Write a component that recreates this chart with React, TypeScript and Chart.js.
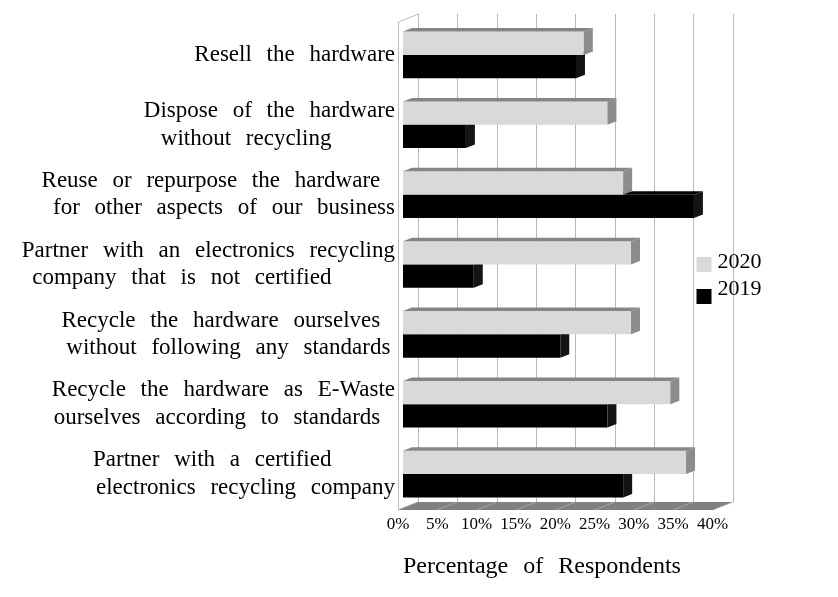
import React, { useEffect, useRef } from 'react';
import { Chart, registerables } from 'chart.js';

Chart.register(...registerables);

// ---------------- data ----------------
const categories: string[][] = [
  ['Resell the hardware'],
  ['Dispose of the hardware', 'without recycling'],
  ['Reuse or repurpose the hardware', 'for other aspects of our business'],
  ['Partner with an electronics recycling', 'company that is not certified'],
  ['Recycle the hardware ourselves', 'without following any standards'],
  ['Recycle the hardware as E-Waste', 'ourselves according to standards'],
  ['Partner with a certified', 'electronics recycling company'],
];
const values2020 = [23, 26, 28, 29, 29, 34, 36];
const values2019 = [22, 8, 37, 9, 20, 26, 28];
const seriesLabels = ['2020', '2019'];
const xTickValues = [0, 5, 10, 15, 20, 25, 30, 35, 40];
const axisTitle = 'Percentage of Respondents';

// ---------------- styling ----------------
const FONT = '"Liberation Serif", "Times New Roman", serif';
const W = 838;
const H = 597;
const PLOT_LEFT = 403;
const PLOT_RIGHT = 717.5;
const PLOT_TOP = 20;
const PLOT_BOTTOM = 509;
const DEPTH = { x: 20, y: -8 };
const BAR_DEPTH = { x: 9, y: -3.5 };
const seriesColors = ['#d9d9d9', '#000000'];
const faceColors = [
  { top: '#858585', side: '#8c8c8c' },
  { top: '#050505', side: '#141414' },
];
// trailing gap (in word spaces) after each label line, mimicking the source layout
const lineTrail = [[0], [0, 4.5], [1, 0], [0, 4.5], [1, 0.5], [0, 1], [4.5, 0]];

const pad = (n: number) => ' '.repeat(Math.floor(n)) + (n % 1 ? '\u2009' : '');

const crisp = (v: number) => Math.round(v) + 0.5;

const scenePlugin = {
  id: 'scene3d',
  beforeDraw(chart: any) {
    (chart.ctx as any).wordSpacing = '9px';
  },
  beforeDatasetsDraw(chart: any) {
    const { ctx, chartArea: a, scales } = chart;
    const x = scales.x;
    const fx = (v: number) => x.getPixelForValue(v) - 5;
    const frontY = a.bottom + 1;
    const backY = frontY + DEPTH.y;
    const topFront = a.top + 2;
    const topBack = topFront + DEPTH.y;
    const vMin = xTickValues[0];
    const vMax = xTickValues[xTickValues.length - 1];
    ctx.save();
    // floor
    ctx.fillStyle = '#808080';
    ctx.beginPath();
    ctx.moveTo(fx(vMin), frontY);
    ctx.lineTo(fx(vMax), frontY);
    ctx.lineTo(fx(vMax) + DEPTH.x, backY);
    ctx.lineTo(fx(vMin) + DEPTH.x, backY);
    ctx.closePath();
    ctx.fill();
    ctx.lineWidth = 1;
    ctx.strokeStyle = '#a6a6a6';
    xTickValues.forEach((v) => {
      ctx.beginPath();
      ctx.moveTo(fx(v), frontY);
      ctx.lineTo(fx(v) + DEPTH.x, backY);
      ctx.stroke();
    });
    // back wall gridlines
    ctx.strokeStyle = '#b8b8b8';
    xTickValues.forEach((v) => {
      const gx = crisp(fx(v) + DEPTH.x);
      ctx.beginPath();
      ctx.moveTo(gx, topBack);
      ctx.lineTo(gx, backY);
      ctx.stroke();
    });
    // left wall
    const lx = crisp(fx(vMin));
    ctx.beginPath();
    ctx.moveTo(lx, frontY);
    ctx.lineTo(lx, topFront);
    ctx.lineTo(lx + DEPTH.x, topBack);
    ctx.stroke();
    ctx.restore();
  },
  afterDatasetDraw(chart: any, args: any) {
    const { ctx } = chart;
    const meta = args.meta;
    const fc = faceColors[args.index];
    ctx.save();
    meta.data.forEach((el: any) => {
      const { x: xe, y, base, height } = el.getProps(['x', 'y', 'base', 'height'], true);
      const top = y - height / 2;
      const bottom = y + height / 2;
      // top face
      ctx.fillStyle = fc.top;
      ctx.beginPath();
      ctx.moveTo(base, top);
      ctx.lineTo(base + BAR_DEPTH.x, top + BAR_DEPTH.y);
      ctx.lineTo(xe + BAR_DEPTH.x, top + BAR_DEPTH.y);
      ctx.lineTo(xe, top);
      ctx.closePath();
      ctx.fill();
      // side face
      ctx.fillStyle = fc.side;
      ctx.beginPath();
      ctx.moveTo(xe, top);
      ctx.lineTo(xe + BAR_DEPTH.x, top + BAR_DEPTH.y);
      ctx.lineTo(xe + BAR_DEPTH.x, bottom + BAR_DEPTH.y);
      ctx.lineTo(xe, bottom);
      ctx.closePath();
      ctx.fill();
    });
    ctx.restore();
  },
  afterDraw(chart: any) {
    const { ctx, chartArea: a } = chart;
    ctx.save();
    ctx.font = `22px ${FONT}`;
    ctx.textBaseline = 'alphabetic';
    ctx.textAlign = 'left';
    const boxX = a.right - 21;
    const rows = [268, 295];
    const boxTops = [257, 289];
    chart.data.datasets.forEach((ds: any, i: number) => {
      ctx.fillStyle = ds.backgroundColor;
      ctx.fillRect(boxX, boxTops[i], 15, 15);
      ctx.fillStyle = '#000';
      ctx.fillText(ds.label, boxX + 21, rows[i]);
    });
    ctx.restore();
  },
};

export default function App() {
  const ref = useRef<HTMLCanvasElement>(null);
  useEffect(() => {
    if (!ref.current) return;
    Chart.defaults.font.family = FONT;
    const labels = categories.map((lines, i) => lines.map((l, j) => l + pad(lineTrail[i][j])));
    const chart = new Chart(ref.current, {
      type: 'bar',
      data: {
        labels,
        datasets: [
          { label: seriesLabels[0], data: values2020, backgroundColor: seriesColors[0], borderWidth: 0 },
          { label: seriesLabels[1], data: values2019, backgroundColor: seriesColors[1], borderWidth: 0 },
        ],
      },
      options: {
        indexAxis: 'y',
        responsive: false,
        animation: false,
        layout: { padding: { top: PLOT_TOP, right: W - PLOT_RIGHT, left: 0, bottom: 0 } },
        datasets: { bar: { categoryPercentage: 0.668, barPercentage: 1 } },
        plugins: { legend: { display: false }, tooltip: { enabled: false } },
        scales: {
          x: {
            min: xTickValues[0],
            max: xTickValues[xTickValues.length - 1],
            afterBuildTicks: (s: any) => {
              s.ticks = xTickValues.map((v) => ({ value: v }));
            },
            afterFit: (s: any) => {
              s.height = H - PLOT_BOTTOM;
              s.paddingLeft = 0;
              s.paddingRight = 0;
            },
            grid: { display: false, drawTicks: false },
            border: { display: false },
            ticks: {
              callback: (v: any) => v + '%',
              font: { size: 17 },
              color: '#000',
              padding: 5,
              labelOffset: -5,
              maxRotation: 0,
              autoSkip: false,
            },
            title: {
              display: true,
              text: axisTitle,
              align: 'start',
              font: { size: 24 },
              color: '#000',
              padding: { top: 16, bottom: 16 },
            },
          },
          y: {
            afterFit: (s: any) => {
              s.width = PLOT_LEFT;
              s.paddingTop = 0;
              s.paddingBottom = 0;
            },
            grid: { display: false, drawTicks: false },
            border: { display: false },
            ticks: { font: { size: 23 }, color: '#000', padding: 8, autoSkip: false },
          },
        },
      } as any,
      plugins: [scenePlugin],
    });
    return () => chart.destroy();
  }, []);
  return (
    <div style={{ position: 'fixed', left: 0, top: 0, width: W, height: H, background: '#fff' }}>
      <canvas ref={ref} width={W} height={H} style={{ width: W, height: H, display: 'block' }} />
    </div>
  );
}
